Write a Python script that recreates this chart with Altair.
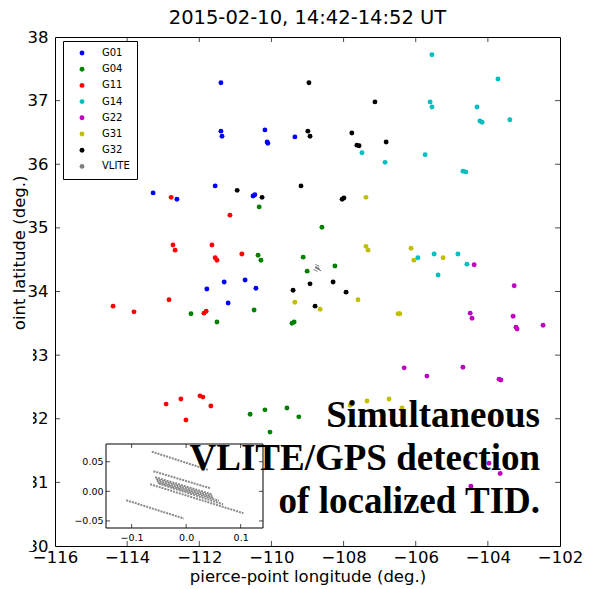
import altair as alt
import pandas as pd

# ---------------- data ----------------
sats = ["G01", "G04", "G11", "G14", "G22", "G31", "G32"]
sat_colors = ["#0000ff", "#008000", "#ff0000", "#00bfbf", "#bf00bf", "#bfbf00", "#000000"]

g01_lon = [-111.40, -111.40, -111.37, -110.18, -110.10, -110.12, -109.35, -113.28, -112.62,
           -111.56, -110.51, -110.46, -110.73, -111.31, -111.79, -110.43, -111.20]
g01_lat = [37.28, 36.52, 36.44, 36.54, 36.33, 36.35, 36.43, 35.55, 35.45,
           35.66, 35.50, 35.52, 34.18, 34.15, 34.04, 34.05, 33.82]

g04_lon = [-110.34, -110.37, -110.29, -108.60, -109.12, -109.01, -108.24, -112.23, -111.51,
           -110.48, -109.43, -109.37, -110.59, -110.18, -109.57, -109.24, -110.04]
g04_lat = [35.33, 34.57, 34.49, 35.01, 34.54, 34.32, 34.40, 33.65, 33.52,
           33.71, 33.50, 33.52, 32.07, 32.14, 32.17, 32.03, 31.79]

g11_lon = [-112.78, -111.15, -112.73, -112.67, -111.65, -111.56, -111.51, -110.82, -114.39,
           -113.81, -112.84, -111.87, -111.81, -112.92, -112.51, -111.98, -111.90, -111.68, -112.37]
g11_lat = [35.48, 35.20, 34.73, 34.65, 34.73, 34.53, 34.49, 34.59, 33.77,
           33.68, 33.87, 33.66, 33.69, 32.23, 32.31, 32.36, 32.34, 32.20, 31.98]

g14_lon = [-105.55, -103.72, -105.60, -105.55, -104.30, -104.22, -104.16, -103.39, -107.49,
           -106.85, -105.74, -104.69, -104.61, -105.49, -104.83, -105.94, -104.58, -105.38]
g14_lat = [37.72, 37.34, 36.98, 36.90, 36.90, 36.68, 36.66, 36.70, 36.18,
           36.03, 36.15, 35.89, 35.88, 34.59, 34.59, 34.53, 34.43, 34.26]

g22_lon = [-104.38, -103.27, -104.49, -104.44, -103.30, -103.22, -103.19, -102.47, -106.32,
           -105.69, -104.69, -103.69, -103.64, -104.55, -103.97, -103.66, -104.47]
g22_lat = [34.42, 34.09, 33.66, 33.58, 33.61, 33.44, 33.41, 33.47, 32.80,
           32.67, 32.81, 32.62, 32.61, 31.30, 31.30, 31.14, 30.94]

g31_lon = [-107.38, -107.38, -107.32, -106.13, -106.05, -105.24, -107.60, -109.35, -108.65,
           -106.49, -106.44, -107.82, -107.35, -106.74, -106.38]
g31_lat = [35.48, 34.71, 34.65, 34.68, 34.49, 34.53, 33.87, 33.83, 33.72,
           33.65, 33.65, 32.21, 32.28, 32.31, 32.17]

g32_lon = [-108.96, -107.13, -107.77, -107.63, -107.57, -106.82, -108.99, -108.93, -109.18,
           -107.99, -108.04, -110.95, -110.26, -108.93, -109.40, -108.29, -107.93, -108.79]
g32_lat = [37.28, 36.98, 36.49, 36.30, 36.29, 36.35, 36.52, 36.44, 35.66,
           35.47, 35.45, 35.59, 35.48, 34.12, 34.02, 34.15, 33.99, 33.77]

# VLITE short tracks (offsets in degrees, shown enlarged in the inset)
vlite_dx0 = [-0.063, -0.060, -0.057, -0.055, -0.054, -0.052, -0.050, -0.066, -0.110]
vlite_dy0 = [0.067, 0.034, 0.024, 0.021, 0.018, 0.015, 0.013, 0.012, -0.015]
vlite_dx1 = [0.041, 0.045, 0.047, 0.048, 0.050, 0.060, 0.068, 0.105, -0.004]
vlite_dy1 = [0.036, 0.005, -0.005, -0.008, -0.011, -0.016, -0.022, -0.037, -0.046]
vlite_center = [-108.72, 34.36]

x_lim = [-116, -102]
y_lim = [30, 38]
x_ticks = [-116, -114, -112, -110, -108, -106, -104, -102]
y_ticks = [30, 31, 32, 33, 34, 35, 36, 37, 38]

inset_xlim = [-0.147, 0.141]
inset_ylim = [-0.062, 0.080]
inset_xticks = [-0.1, 0.0, 0.1]
inset_yticks = [-0.05, 0.0, 0.05]

title_text = "2015-02-10, 14:42-14:52 UT"
annotation = "Simultaneous\nVLITE/GPS detection\nof localized TID."

# ---------------- tables ----------------
series = {
    "G01": (g01_lon, g01_lat), "G04": (g04_lon, g04_lat), "G11": (g11_lon, g11_lat),
    "G14": (g14_lon, g14_lat), "G22": (g22_lon, g22_lat), "G31": (g31_lon, g31_lat),
    "G32": (g32_lon, g32_lat),
}
rows = []
for s, (lons, lats) in series.items():
    for lo, la in zip(lons, lats):
        rows.append({"sat": s, "lon": lo, "lat": la})
pts = pd.DataFrame(rows)

seg = pd.DataFrame({"dx0": vlite_dx0, "dy0": vlite_dy0, "dx1": vlite_dx1, "dy1": vlite_dy1})
seg["lon0"] = vlite_center[0] + seg["dx0"]
seg["lon1"] = vlite_center[0] + seg["dx1"]
seg["lat0"] = vlite_center[1] + seg["dy0"]
seg["lat1"] = vlite_center[1] + seg["dy1"]

W, H = 505, 509
FONT = "DejaVu Sans"
FS = 16.5

xs = alt.Scale(domain=x_lim, nice=False, zero=False)
ys = alt.Scale(domain=y_lim, nice=False, zero=False)

leg = alt.Legend(
    title=None, orient="none", legendX=8, legendY=4,
    strokeColor="black", fillColor="white", padding=7, cornerRadius=0,
    labelFont=FONT, labelFontSize=10, labelColor="black", rowPadding=6.2,
    symbolOffset=7, labelOffset=15, symbolType="circle", symbolStrokeWidth=0,
)
dom = sats + ["VLITE"]

points = alt.Chart(pts).mark_circle(opacity=1).encode(
    x=alt.X("lon:Q", scale=xs, axis=alt.Axis(
        values=x_ticks, format="d", labelFontSize=FS, labelFont=FONT, labelPadding=3,
        ticks=False, domain=False, grid=False, labelOverlap=False, labelFlush=False,
        title="pierce-point longitude (deg.)", titleFont=FONT, titleFontSize=FS,
        titleFontWeight="normal", titlePadding=3)),
    y=alt.Y("lat:Q", scale=ys, axis=alt.Axis(
        values=y_ticks, format="d", labelFontSize=FS, labelFont=FONT, labelPadding=7,
        ticks=False, domain=False, grid=False, labelOverlap=False, labelFlush=False,
        title="pierce-point latitude (deg.)", titleFont=FONT, titleFontSize=FS,
        titleFontWeight="normal", titleX=-28, titleY=249, titleBaseline="bottom")),
    color=alt.Color("sat:N", scale=alt.Scale(domain=dom, range=sat_colors + ["#808080"]), legend=leg),
    size=alt.Size("sat:N", scale=alt.Scale(domain=dom, range=[24] * 7 + [3]), legend=leg),
)

vlite_main = alt.Chart(seg).mark_rule(color="#808080", strokeWidth=1).encode(
    x=alt.X("lon0:Q", scale=xs), x2="lon1", y=alt.Y("lat0:Q", scale=ys), y2="lat1")

xt = pd.DataFrame({"v": x_ticks[1:-1]})
yt = pd.DataFrame({"v": y_ticks[1:-1]})
tk = dict(color="black", thickness=1, size=5)
main_ticks = [
    alt.Chart(xt).mark_tick(orient="vertical", yOffset=-2.5, **tk).encode(
        x=alt.X("v:Q", scale=xs), y=alt.datum(y_lim[0], scale=ys)),
    alt.Chart(xt).mark_tick(orient="vertical", yOffset=2.5, **tk).encode(
        x=alt.X("v:Q", scale=xs), y=alt.datum(y_lim[1], scale=ys)),
    alt.Chart(yt).mark_tick(orient="horizontal", xOffset=2.5, **tk).encode(
        y=alt.Y("v:Q", scale=ys), x=alt.datum(x_lim[0], scale=xs)),
    alt.Chart(yt).mark_tick(orient="horizontal", xOffset=-2.5, **tk).encode(
        y=alt.Y("v:Q", scale=ys), x=alt.datum(x_lim[1], scale=xs)),
]

# white cover reproducing the cropped left margin of the original figure
cover = alt.Chart(pd.DataFrame({"a": [0]})).mark_rect(color="white").encode(
    x=alt.value(-55), x2=alt.value(-22), y=alt.value(293), y2=alt.value(514))

main = alt.layer(points, vlite_main, *main_ticks, cover)

# ---------------- inset ----------------
ixs = alt.Scale(domain=inset_xlim, range=[51, 208], nice=False, zero=False)
iys = alt.Scale(domain=inset_ylim, range=[491, 407], nice=False, zero=False)

frame = pd.DataFrame({"x0": [inset_xlim[0]], "x1": [inset_xlim[1]],
                      "y0": [inset_ylim[0]], "y1": [inset_ylim[1]]})
inset_box = alt.Chart(frame).mark_rect(fill="white", stroke="black", strokeWidth=1).encode(
    x=alt.X("x0:Q", scale=ixs, axis=alt.Axis(
        orient="bottom", offset=-18, values=inset_xticks, format=".1f", labelFontSize=9.5,
        labelFont=FONT, labelPadding=4, ticks=False, domain=False, grid=False, title=None,
        labelOverlap=False, labelFlush=False)),
    x2="x1",
    y=alt.Y("y0:Q", scale=iys, axis=alt.Axis(
        orient="left", offset=-51, values=inset_yticks, format=".2f", labelFontSize=9.5,
        labelFont=FONT, labelPadding=3, ticks=False, domain=False, grid=False, title=None,
        labelOverlap=False, labelFlush=False)),
    y2="y1",
)

inset_lines = alt.Chart(seg).mark_rule(color="#8a8a8a", strokeWidth=2, strokeDash=[2, 1]).encode(
    x=alt.X("dx0:Q", scale=ixs), x2="dx1", y=alt.Y("dy0:Q", scale=iys), y2="dy1")

ixt = pd.DataFrame({"v": inset_xticks})
iyt = pd.DataFrame({"v": inset_yticks})
itk = dict(color="black", thickness=1, size=4)
inset_ticks = [
    alt.Chart(ixt).mark_tick(orient="vertical", yOffset=-2, **itk).encode(
        x=alt.X("v:Q", scale=ixs), y=alt.datum(inset_ylim[0], scale=iys)),
    alt.Chart(ixt).mark_tick(orient="vertical", yOffset=2, **itk).encode(
        x=alt.X("v:Q", scale=ixs), y=alt.datum(inset_ylim[1], scale=iys)),
    alt.Chart(iyt).mark_tick(orient="horizontal", xOffset=2, **itk).encode(
        y=alt.Y("v:Q", scale=iys), x=alt.datum(inset_xlim[0], scale=ixs)),
    alt.Chart(iyt).mark_tick(orient="horizontal", xOffset=-2, **itk).encode(
        y=alt.Y("v:Q", scale=iys), x=alt.datum(inset_xlim[1], scale=ixs)),
]

inset = alt.layer(inset_box, inset_lines, *inset_ticks)

text_layer = alt.Chart(pd.DataFrame({"t": [annotation]})).mark_text(
    align="right", baseline="alphabetic", font="Liberation Serif", fontWeight="bold",
    fontSize=37, lineBreak="\n", lineHeight=43, color="black",
).encode(text="t:N", x=alt.value(485), y=alt.value(390))

chart = alt.layer(main, inset, text_layer).resolve_scale(
    x="independent", y="independent"
).properties(
    width=W, height=H,
    title=alt.TitleParams(title_text, font=FONT, fontSize=19.5, fontWeight="normal",
                          anchor="middle", offset=1, color="black"),
    autosize=alt.AutoSizeParams(type="none"),
    padding={"left": 55, "top": 37, "right": 32, "bottom": 43},
).configure_view(stroke="black", strokeWidth=1).configure_axis(
    labelColor="black", titleColor="black")

chart.save("out.html", embed_options={"renderer": "svg", "actions": False})
